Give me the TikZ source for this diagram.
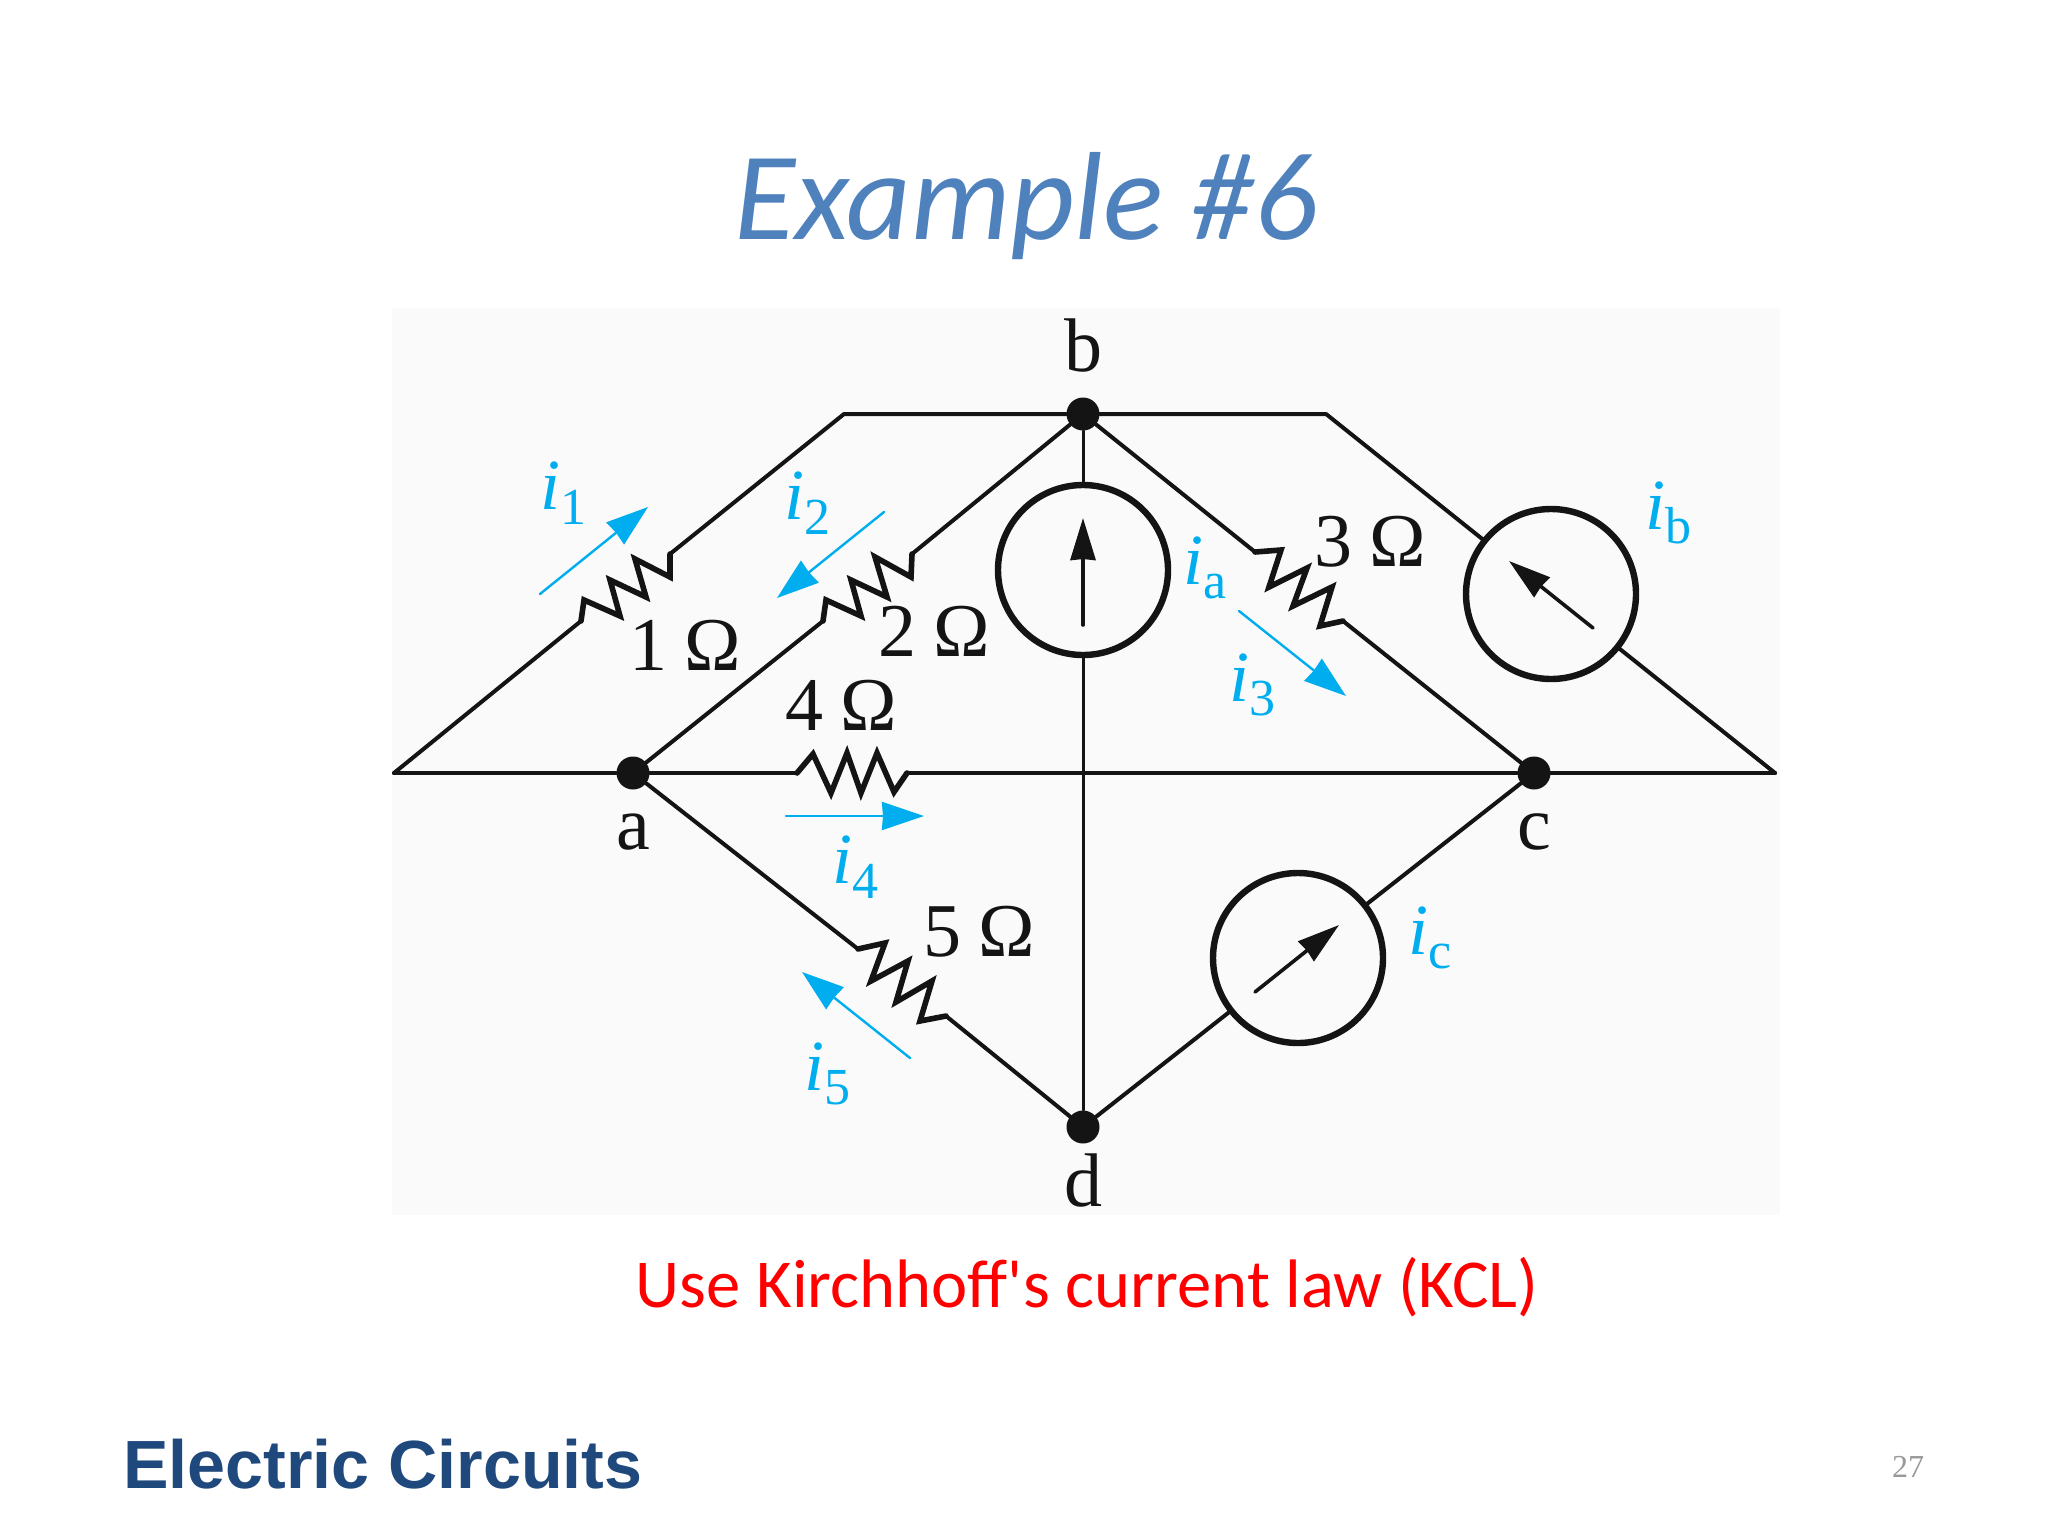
\documentclass[tikz,border=0pt]{standalone}
\usepackage{fontspec}
\setmainfont{Liberation Serif}
\newfontfamily\calibrifont{Carlito}
\newfontfamily\arialfont{Liberation Sans}
\usetikzlibrary{arrows.meta}
\definecolor{titleblue}{HTML}{4F81BD}
\definecolor{footblue}{HTML}{1F497D}
\definecolor{curblue}{HTML}{00AEEF}
\definecolor{panelgray}{HTML}{FAFAFA}
\newcommand{\icur}[1]{\textit{i}\raisebox{-0.2em}{\fontsize{26}{26}\selectfont #1}}
\newcommand{\ohm}[1]{#1\hspace{0.23em}Ω}
\tikzset{
	wire/.style={line width=2pt,black!92},
	res/.style={line width=2.8pt,black!92,line join=miter},
	junction/.style={circle,fill=black!92,inner sep=0pt,minimum size=16.5pt},
	source/.style={circle,draw=black!92,line width=3.2pt,inner sep=0pt,outer sep=0pt,minimum size=85pt},
	inner arrow/.style={line width=1.8pt,black!92,-{Stealth[length=21pt,width=12.5pt,inset=0.5pt]}},
	cur/.style={line width=1.2pt,curblue,-{Stealth[length=21pt,width=14pt,inset=0.5pt]}},
	lab/.style={font=\fontsize{38}{38}\selectfont,text=black!92,inner sep=0pt},
	curlab/.style={font=\fontsize{36}{36}\selectfont,text=curblue,inner sep=0pt}
}
\begin{document}
\begin{tikzpicture}[x=0.5pt,y=-0.5pt,line join=round,line cap=round]
	\useasboundingbox (0,0) rectangle (2048,1536);
	\fill[white] (0,0) rectangle (2048,1536);
	\fill[panelgray] (392,308) rectangle (1780,1215);

	\node[inner sep=0pt,text=titleblue,font=\calibrifont\itshape\fontsize{62.7}{62.7}\selectfont] (title) at (1026,206) {Example \#6};
	\node[inner sep=0pt,text=red,font=\calibrifont\fontsize{34.3}{34.3}\selectfont] (note) at (1087,1287) {Use Kirchhoff's current law (KCL)};
	\node[inner sep=0pt,text=footblue,font=\arialfont\bfseries\fontsize{34.1}{34.1}\selectfont] (foot) at (383,1464) {Electric Circuits};
	\node[inner sep=0pt,text=black!40,font=\fontsize{16}{16}\selectfont] (page) at (1908,1467) {27};

	\node[junction] (a) at (633,773) {};
	\node[junction] (b) at (1083,414) {};
	\node[junction] (c) at (1534,773) {};
	\node[junction] (d) at (1083,1127) {};
	\coordinate (apexl) at (394,773);
	\coordinate (apexr) at (1775,773);
	\coordinate (topl) at (844,414);
	\coordinate (topr) at (1326,414);

	\node[source] (sa) at (1083,570) {};
	\node[source] (sb) at (1551,594) {};
	\node[source] (sc) at (1298,958) {};

	\coordinate (r1s) at (581,621);
	\coordinate (r1e) at (670,554);
	\coordinate (r2s) at (823,621);
	\coordinate (r2e) at (912,554);
	\coordinate (r3s) at (1255,552);
	\coordinate (r3e) at (1343,621);
	\coordinate (r4s) at (797,773);
	\coordinate (r4e) at (907,773);
	\coordinate (r5s) at (858,949);
	\coordinate (r5e) at (946,1016);

	\draw[wire] (apexl) -- (a) -- (r4s);
	\draw[wire] (r4e) -- (c) -- (apexr);
	\draw[wire] (apexl) -- (r1s);
	\draw[wire] (r1e) -- (topl) -- (b) -- (topr) -- (sb) -- (apexr);
	\draw[wire] (a) -- (r2s);
	\draw[wire] (r2e) -- (b);
	\draw[wire] (b) -- (r3s);
	\draw[wire] (r3e) -- (c);
	\draw[wire] (a) -- (r5s);
	\draw[wire] (r5e) -- (d);
	\draw[wire] (c) -- (sc) -- (d);
	\draw[line width=1.5pt,black!92] (b) -- (sa) -- (d);

	\draw[res] (r1s) -- (584,600) -- (620,616) -- (610,580) -- (646,597) -- (635,559) -- (670,577) -- (r1e);
	\draw[res] (r2s) -- (826,600) -- (861,616) -- (851,580) -- (887,597) -- (875,557) -- (911,577) -- (r2e);
	\draw[res] (r3s) -- (1281,550) -- (1269,587) -- (1307,568) -- (1293,606) -- (1332,587) -- (1320,626) -- (r3e);
	\draw[res] (r4s) -- (813,754) -- (831,793) -- (847,753) -- (861,793) -- (877,753) -- (894,792) -- (r4e);
	\draw[res] (r5s) -- (885,943) -- (871,981) -- (908,961) -- (896,1002) -- (932,981) -- (920,1021) -- (r5e);

	\draw[inner arrow] (1083,625) -- (1083,518);
	\draw[inner arrow] (1593,628) -- (1509,561);
	\draw[inner arrow] (1255,992) -- (1339,925);

	\draw[cur] (540,594) -- (648,507);
	\draw[cur] (884,512) -- (777,598);
	\draw[cur] (1239,611) -- (1346,696);
	\draw[cur] (786,816) -- (924,816);
	\draw[cur] (910,1058) -- (802,972);

	\node[lab] (lb) at (1083,346) {b};
	\node[lab] (la) at (633,832) {a};
	\node[lab] (lc) at (1534,832) {c};
	\node[lab] (ld) at (1083,1180) {d};
	\node[lab] (r1) at (685,645) {\ohm{1}};
	\node[lab] (r2) at (934,631) {\ohm{2}};
	\node[lab] (r3) at (1370,542) {\ohm{3}};
	\node[lab] (r4) at (841,705) {\ohm{4}};
	\node[lab] (r5) at (979,932) {\ohm{5}};

	\node[curlab] (i1) at (563,493) {\icur{1}};
	\node[curlab] (i2) at (807,503) {\icur{2}};
	\node[curlab] (i3) at (1252,685) {\icur{3}};
	\node[curlab] (i4) at (855,867) {\icur{4}};
	\node[curlab] (i5) at (827,1074) {\icur{5}};
	\node[curlab] (ia) at (1205,568) {\icur{a}};
	\node[curlab] (ib) at (1668,513) {\icur{b}};
	\node[curlab] (ic) at (1430,938) {\icur{c}};
\end{tikzpicture}
\end{document}
